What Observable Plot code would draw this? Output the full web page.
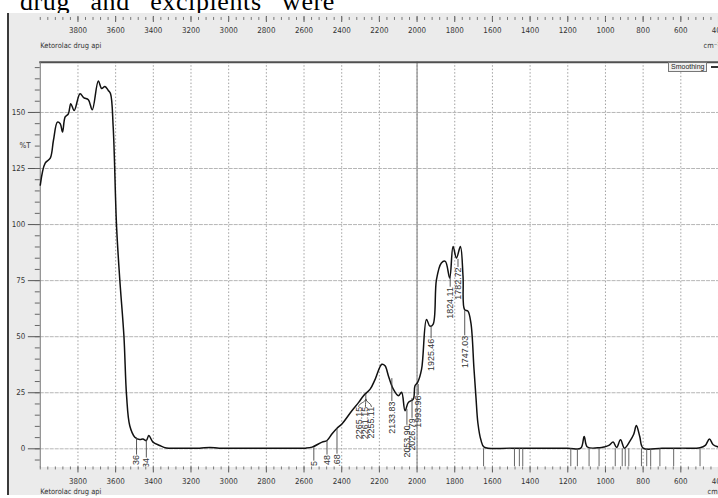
<!DOCTYPE html>
<html><head><meta charset="utf-8">
<script src="https://cdn.jsdelivr.net/npm/d3@7"></script>
<script src="https://cdn.jsdelivr.net/npm/@observablehq/plot@0.6"></script>
<style>
body{margin:0;background:#fff;}
#wrap{position:relative;width:718px;height:498px;overflow:hidden;background:#fff;}
#docclip{position:absolute;left:0;top:0;width:718px;height:13px;overflow:hidden;}
#doc{position:absolute;left:20px;top:-12px;width:315px;display:flex;justify-content:space-between;font:26px "Liberation Serif","Times New Roman",serif;line-height:28px;color:#000;white-space:nowrap;letter-spacing:0.6px;}
#chart{position:absolute;left:0;top:13px;}
#legend{position:absolute;left:668px;top:62px;display:flex;align-items:center;font:7px "Liberation Sans",sans-serif;color:#222;}
#legend .box{border:1px solid #777;background:#f0f0f0;padding:0 2px;line-height:8px;height:8px;}
#legend .ln{display:inline-block;width:12px;height:1.5px;background:#333;margin-left:4px;}
</style></head>
<body>
<div id="wrap">
  <div id="docclip"><div id="doc"><span>drug</span><span>and</span><span>excipients</span><span>were</span></div></div>
  <div id="chart"></div>
  <div id="legend"><span class="box">Smoothing</span><span class="ln"></span></div>
</div>
<script>
// ---- spectrum (wavenumber cm-1 vs %T) ----
const wavenumber = [4000,3974,3947,3930,3909,3894,3882,3868,3851,3838,3820,3789,3768,3745,3724,3692,3674,3657,3639,3627,3613,3595,3578,3556,3542,3525,3498,3472,3455,3437,3424,3402,3366,3331,3250,3155,3100,3050,2950,2850,2750,2650,2592,2557,2504,2478,2451,2425,2399,2346,2310,2284,2249,2222,2187,2170,2152,2126,2099,2082,2064,2046,2020,2011,1997,1976,1950,1932,1915,1897,1871,1850,1827,1809,1791,1770,1756,1748,1730,1714,1698,1687,1677,1661,1644,1500,1200,1131,1113,1096,1030,1008,982,959,941,920,899,871,850,836,818,800,700,600,498,470,448,428,400];
const transmittance = [117.6,127.4,129.6,137.6,145.7,145,141.3,148,149.4,153.9,150.9,158.3,156.5,155.7,151.2,164,160.7,161.6,159.8,158.3,143.5,99.1,75.5,50.3,23.7,10.3,5.2,4.1,4.4,3.7,5.9,3.0,1.5,0.4,0.3,0.3,0.6,0.3,0.2,0.3,0.2,0.3,0.3,0.75,3.0,3.7,6.7,9.2,11.1,17,20.7,23.7,26.6,31.1,37.7,37,32.5,26.6,23.7,25.2,17,20.7,22.2,28.1,29.6,35.5,57.7,54.7,55.5,75.5,82.9,83.6,76.2,90.2,85.1,90.2,76.9,62.1,61.4,56,35.8,22.5,11.4,3.9,0.8,0.3,0.3,0.3,5.5,0.8,0.5,0.8,1.5,3,0.6,4,0.3,3.3,6.5,10.4,5.5,0.3,0.3,0.3,0.5,1.5,4.4,1.8,0.8];

// ---- peak annotations ----
const peakWn = [2133.83, 2053.90, 2026.79, 1993.96, 1925.46, 1824.11, 1782.72, 1747.03];
const peakLabel = ["2133.83", "2053.90", "2026.79", "1993.96", "1925.46", "1824.11", "1782.72", "1747.03"];
const peakT = [31.3, 17.6, 22.5, 28.7, 54.8, 76.5, 84.5, 61.5];
const peakLabelT = [21.1, 10.5, 13.6, 23.8, 49.1, 72.1, 80.9, 50.4];

const groupLabel = ["2265.15", "2261.15", "2255.11"];
const groupTextWn = [2310, 2274, 2242];
const groupRootWn = [2272];
const groupRootT = [24.2, 22.4];
const groupLabelT = 18.7;

const fragWn = [3489, 3437, 2548, 2478, 2425];
const fragText = ["36", "34", "5", "48", "3.68"];
const fragPeakT = [4.8, 3.8, 0.5, 3.7, 9.0];
const fragTopT = [-2.8, -4.1, -5.5, -2.8, -2.4];

const tickLineWn = [1647,1483,1457,1439,1184,1149,1087,1034,948,911,895,876,809,781,760,711,638,498];
const tickLineT = [0.0, -8];

const cursorWn = [2000];

// ---- axes ----
const xMajor = [3800,3600,3400,3200,3000,2800,2600,2400,2200,2000,1800,1600,1400,1200,1000,800,600,400];
const xMinor = d3.range(4000, 399, -40);
const yMajor = [0,25,50,75,100,125,150];
const yMinor = d3.range(-5, 171, 5);
const panelLabel = ["Ketorolac drug api"];
const unitLabel = ["cm\u207B\u00B9"];
const yLabel = ["%T"];

const spectrum = wavenumber.map((w, i) => ({w, t: transmittance[i]}));
const peaks = peakWn.map((w, i) => ({w, label: peakLabel[i], t: peakT[i], lt: peakLabelT[i]}));
const group = groupLabel.map((l, i) => ({label: l, w: groupTextWn[i], rw: groupRootWn[0], rt: groupRootT[1], lt: groupLabelT}));
const frags = fragWn.map((w, i) => ({w, text: fragText[i], t: fragPeakT[i], lt: fragTopT[i]}));

const fmt = d => String(d);
const small = {fontSize: 8, fill: "#333", tickFormat: fmt};
const narrow = '"Liberation Sans Narrow","DejaVu Sans Condensed","Liberation Sans",sans-serif';
const lbl = {rotate: -90, textAnchor: "end", fontSize: 9, fill: "#333", fontFamily: '"Liberation Sans",sans-serif', clip: true};

const chart = Plot.plot({
  width: 722,
  height: 485,
  marginLeft: 40,
  marginRight: 0,
  marginTop: 49,
  marginBottom: 29,
  x: {domain: [4000, 400], axis: null},
  y: {domain: [-8.1, 172.4], axis: null},
  style: {
    background: "linear-gradient(to right, #fff 0 7px, #3a3a3a 7px 9px, #ebebeb 9px)",
    fontFamily: narrow,
    fontStretch: "condensed",
    overflow: "visible"
  },
  marks: [
    Plot.frame({fill: "white", stroke: null}),
    Plot.gridY(yMajor, {stroke: "#b5b5b5", strokeOpacity: 1, strokeDasharray: "4,1"}),
    Plot.gridX(xMajor, {stroke: "#a0a0a0", strokeOpacity: 1, strokeDasharray: "1.5,2"}),
    Plot.ruleX(cursorWn, {stroke: "#8c8c8c", strokeWidth: 1.2}),
    Plot.frame({anchor: "top", stroke: "#505050", strokeWidth: 2}),
    Plot.frame({anchor: "left", stroke: "#777"}),
    // spectrum
    Plot.line(spectrum, {x: "w", y: "t", stroke: "#111", strokeWidth: 1.5, curve: "catmull-rom"}),
    // peak labels
    Plot.ruleX(peaks, {x: "w", y1: "t", y2: "lt", stroke: "#444", strokeWidth: 0.9}),
    Plot.text(peaks, {x: "w", y: "lt", text: "label", ...lbl}),
    Plot.ruleX(groupRootWn, {x: d => d, y1: groupRootT[0], y2: groupRootT[1], stroke: "#444", strokeWidth: 0.9}),
    Plot.link(group, {x1: "rw", y1: "rt", x2: "w", y2: "lt", curve: "bump-y", stroke: "#444", strokeWidth: 0.9}),
    Plot.text(group, {x: "w", y: "lt", text: "label", ...lbl}),
    Plot.ruleX(frags, {x: "w", y1: "t", y2: "lt", stroke: "#444", strokeWidth: 0.9}),
    Plot.text(frags, {x: "w", y: "lt", text: "text", ...lbl}),
    Plot.ruleX(tickLineWn, {x: d => d, y1: tickLineT[0], y2: tickLineT[1], stroke: "#555", strokeWidth: 0.9}),
    // bottom axis
    Plot.axisX(xMajor, {anchor: "bottom", tickSize: 6, tickPadding: 5, label: null, ...small, stroke: "#555"}),
    Plot.axisX(xMinor, {anchor: "bottom", tickSize: 3, tickFormat: () => "", label: null, stroke: "#777"}),
    // top axis (in the grey strip)
    Plot.axisX(xMajor, {anchor: "top", tickSize: 6, tickFormat: () => "", label: null, dy: -41, stroke: "#555"}),
    Plot.axisX(xMinor, {anchor: "top", tickSize: 3, tickFormat: () => "", label: null, dy: -43, stroke: "#777"}),
    Plot.axisX(xMajor, {anchor: "top", tickSize: 0, tickPadding: 0, label: null, dy: -29, ...small}),
    // y axis
    Plot.axisY(yMajor, {anchor: "left", tickSize: 12, tickPadding: 3, label: null, ...small, stroke: "#555"}),
    Plot.axisY(yMinor, {anchor: "left", tickSize: 5, tickFormat: () => "", label: null, stroke: "#666"}),
    Plot.text(yLabel, {frameAnchor: "top-left", text: d => d, dx: -21, dy: 81, fontSize: 8, fill: "#333"}),
    // panel texts
    Plot.text(panelLabel, {frameAnchor: "top-left", text: d => d, textAnchor: "start", dx: 0, dy: -20, fontSize: 7.5, fill: "#333"}),
    Plot.text(panelLabel, {frameAnchor: "bottom-left", text: d => d, textAnchor: "start", dx: 0, dy: 27, fontSize: 7.5, fill: "#333"}),
    Plot.text(unitLabel, {frameAnchor: "top-right", text: d => d, textAnchor: "start", dx: -15, dy: -20, fontSize: 7.5, fill: "#333"}),
    Plot.text(unitLabel, {frameAnchor: "bottom-right", text: d => d, textAnchor: "start", dx: -11, dy: 27, fontSize: 7.5, fill: "#333"})
  ]
});
document.getElementById("chart").appendChild(chart);
</script>
</body></html>
